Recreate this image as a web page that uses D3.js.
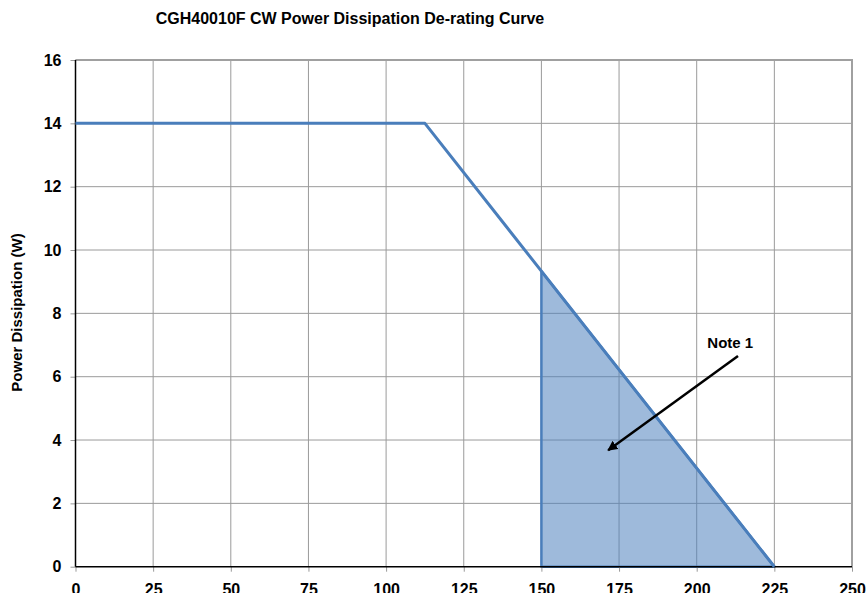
<!DOCTYPE html>
<html><head><meta charset="utf-8">
<script src="https://cdn.jsdelivr.net/npm/d3@7"></script>
<style>html,body{margin:0;padding:0;background:#fff;}svg{display:block;}text{font-family:"Liberation Sans",Arial,sans-serif;font-weight:bold;fill:#000;}</style>
</head><body>
<script>
const title = "CGH40010F CW Power Dissipation De-rating Curve";
const yLabel = "Power Dissipation (W)";
const curveT = [0, 112.5, 225];
const curvePd = [14, 14, 0];
const shadeT = [150, 150, 225];
const shadePd = [0, 9.33, 0];
const xTicks = [0, 25, 50, 75, 100, 125, 150, 175, 200, 225, 250];
const yTicks = [0, 2, 4, 6, 8, 10, 12, 14, 16];
const noteLabel = "Note 1";
const noteText = [210.8, 6.9];
const noteArrowFrom = [213.3, 6.65];
const noteArrowTo = [171.5, 3.68];

const W = 867, H = 593;
const L = 75.5, R = 852, T = 60, B = 566.7;
const svg = d3.select("body").append("svg").attr("width", W).attr("height", H);
const x = d3.scaleLinear().domain([0, 250]).range([L, R]);
const y = d3.scaleLinear().domain([0, 16]).range([B, T]);

svg.append("defs").append("marker").attr("id","ah").attr("viewBox","0 0 10 10")
  .attr("refX",9).attr("refY",5).attr("markerWidth",4).attr("markerHeight",4)
  .attr("orient","auto").append("path").attr("d","M0,0L10,5L0,10Z").attr("fill","#000");

// gridlines
svg.append("g").selectAll("line").data(xTicks.slice(1)).join("line")
  .attr("x1", d => x(d)).attr("x2", d => x(d)).attr("y1", T).attr("y2", B)
  .attr("stroke", "#9a9a9a").attr("stroke-width", 1);
svg.append("g").selectAll("line").data(yTicks.slice(1)).join("line")
  .attr("x1", L).attr("x2", R).attr("y1", d => y(d)).attr("y2", d => y(d))
  .attr("stroke", "#9a9a9a").attr("stroke-width", 1);
// border top/right
svg.append("line").attr("x1", L).attr("x2", R + 1).attr("y1", T).attr("y2", T).attr("stroke", "#a0a0a0").attr("stroke-width", 2);
svg.append("line").attr("x1", R).attr("x2", R).attr("y1", T).attr("y2", B).attr("stroke", "#a0a0a0").attr("stroke-width", 2);

// shaded region
const pts = shadeT.map((t, i) => [x(t), y(shadePd[i])]);
svg.append("path").attr("d", d3.line()(pts) + "Z")
  .attr("fill", "#4f81bd").attr("fill-opacity", 0.55)
  .attr("stroke", "#4a7ebb").attr("stroke-width", 2.5).attr("stroke-linejoin", "round");

// axes
const xAxis = d3.axisBottom(x).tickValues(xTicks).tickSize(5).tickPadding(12).tickFormat(d3.format("d"));
const gx = svg.append("g").attr("transform", `translate(0,${B})`).call(xAxis);
const yAxis = d3.axisLeft(y).tickValues(yTicks).tickSize(5).tickPadding(9).tickFormat(d3.format("d"));
const gy = svg.append("g").attr("transform", `translate(${L},0)`).call(yAxis);
[gx, gy].forEach(g => {
  g.select(".domain").remove();
  g.selectAll(".tick line").attr("stroke", "#999");
  g.selectAll(".tick text").attr("font-size", 16).attr("font-family", "Liberation Sans, Arial, sans-serif").attr("font-weight", "bold").attr("fill", "#000");
});
gx.selectAll(".tick text").attr("dy", "0.71em");
svg.append("line").attr("x1", L).attr("x2", R).attr("y1", B).attr("y2", B).attr("stroke", "#000").attr("stroke-width", 1.5);
svg.append("line").attr("x1", L).attr("x2", L).attr("y1", T).attr("y2", B).attr("stroke", "#000").attr("stroke-width", 1.5);

// curve
svg.append("path").datum(curveT.map((t, i) => [x(t), y(curvePd[i])]))
  .attr("d", d3.line()).attr("fill", "none").attr("stroke", "#4a7ebb").attr("stroke-width", 3).attr("stroke-linejoin", "round");

// annotation
svg.append("line").attr("x1", x(noteArrowFrom[0])).attr("y1", y(noteArrowFrom[1]))
  .attr("x2", x(noteArrowTo[0])).attr("y2", y(noteArrowTo[1]))
  .attr("stroke", "#000").attr("stroke-width", 2.5).attr("marker-end", "url(#ah)");
svg.append("text").attr("x", x(noteText[0])).attr("y", y(noteText[1])).attr("text-anchor", "middle")
  .attr("font-size", 15).text(noteLabel);

// title & y label
svg.append("text").attr("x", 350).attr("y", 24).attr("text-anchor", "middle").attr("font-size", 16).text(title);
svg.append("text").attr("transform", "translate(21.5,312.5) rotate(-90)").attr("text-anchor", "middle").attr("font-size", 15).text(yLabel);
</script>
</body></html>
